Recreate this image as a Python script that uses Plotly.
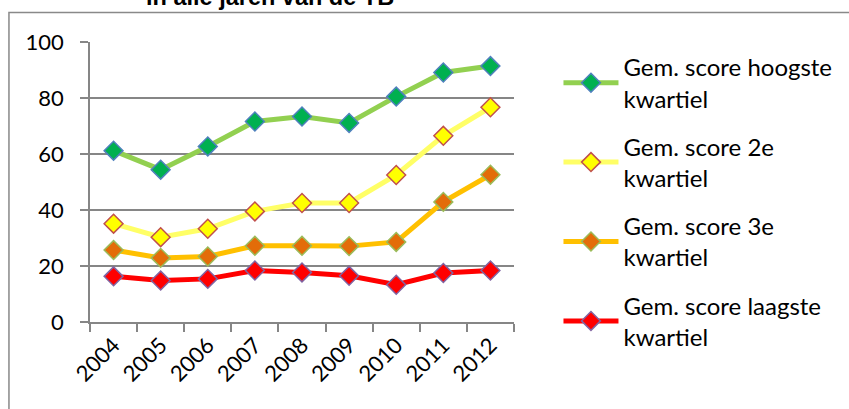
import plotly.graph_objects as go

years = ["2004", "2005", "2006", "2007", "2008", "2009", "2010", "2011", "2012"]
hoogste = [61.2, 54.4, 62.7, 71.6, 73.4, 71.1, 80.5, 89.1, 91.4]
tweede = [35.1, 30.3, 33.3, 39.5, 42.5, 42.5, 52.5, 66.5, 76.7]
derde = [25.7, 22.9, 23.4, 27.2, 27.2, 27.1, 28.6, 42.9, 52.6]
laagste = [16.3, 14.8, 15.4, 18.4, 17.7, 16.5, 13.3, 17.5, 18.4]

names = ["Gem. score hoogste<br>kwartiel", "Gem. score 2e<br>kwartiel",
         "Gem. score 3e<br>kwartiel", "Gem. score laagste<br>kwartiel"]
series = [hoogste, tweede, derde, laagste]
line_colors = ["#92D050", "#FFFF66", "#FFC000", "#FF0000"]
fill_colors = ["#00B050", "#FFFF00", "#E36C09", "#FF0000"]
edge_colors = ["#4F81BD", "#C0504D", "#9BBB59", "#8064A2"]

W, H = 849, 409
L, R, T, B = 90, 519, 42, 322  # plot area in pixels


def px(x):
    return (x - L) / (R - L)


def py(y):
    return (B - y) / (B - T)


fig = go.Figure()
for i, (nm, vals) in enumerate(zip(names, series)):
    fig.add_trace(go.Scatter(
        x=list(range(len(years))), y=vals, name=nm, mode="lines+markers",
        line=dict(color=line_colors[i], width=5),
        marker=dict(symbol="diamond", size=14.5, color=fill_colors[i],
                    line=dict(color=edge_colors[i], width=1.5)),
        legendgroup=str(i),
    ))

font = "Lato, 'Open Sans', sans-serif"
fig.update_layout(
    width=W, height=H,
    margin=dict(l=L, r=W - R, t=T, b=H - B),
    paper_bgcolor="white", plot_bgcolor="white",
    font=dict(family=font, size=22, color="black"),
    showlegend=True,
    legend=dict(x=px(564), y=py(45), xanchor="left", yanchor="top",
                font=dict(family=font, size=24, color="black"),
                tracegroupgap=14, itemwidth=55, bgcolor="rgba(0,0,0,0)",
                maxheight=400),
    xaxis=dict(
        range=[-0.5, len(years) - 0.5], tickmode="array",
        tickvals=list(range(len(years))), ticktext=years, tickangle=-45,
        showgrid=False, showline=True, linecolor="#868686", linewidth=1.5,
        ticks="", zeroline=False,
        minor=dict(tickmode="array", tickvals=[k - 0.5 for k in range(len(years) + 1)],
                   ticks="outside", ticklen=8, tickcolor="#868686", tickwidth=1.5,
                   showgrid=False),
        fixedrange=True,
    ),
    yaxis=dict(
        range=[0, 100], tickvals=[0, 20, 40, 60, 80, 100],
        showgrid=True, gridcolor="#868686", gridwidth=1.5,
        showline=True, linecolor="#868686", linewidth=1.5,
        ticks="outside", ticklen=8, tickcolor="#868686", tickwidth=1.5,
        zeroline=False, ticklabelstandoff=12, fixedrange=True,
    ),
)

# outer chart-area border (extends past the right and bottom edge of the picture)
fig.add_shape(type="rect", xref="paper", yref="paper",
              x0=px(8), y0=py(H + 20), x1=px(W + 20), y1=py(12.5),
              line=dict(color="#898989", width=1.5), fillcolor="rgba(0,0,0,0)",
              layer="below")

# title, mostly cut off at the top of the picture (as in the original)
fig.add_annotation(text="<b>in alle jaren van de TB</b>", xref="paper", yref="paper",
                   x=px(272), y=py(12), xanchor="center", yanchor="bottom",
                   showarrow=False, font=dict(family="Liberation Sans, Arial", size=23.5, color="black"))

fig.write_html("out.html", config={"displayModeBar": False},
               post_script="document.body.style.margin='0';document.body.style.overflow='hidden';")
